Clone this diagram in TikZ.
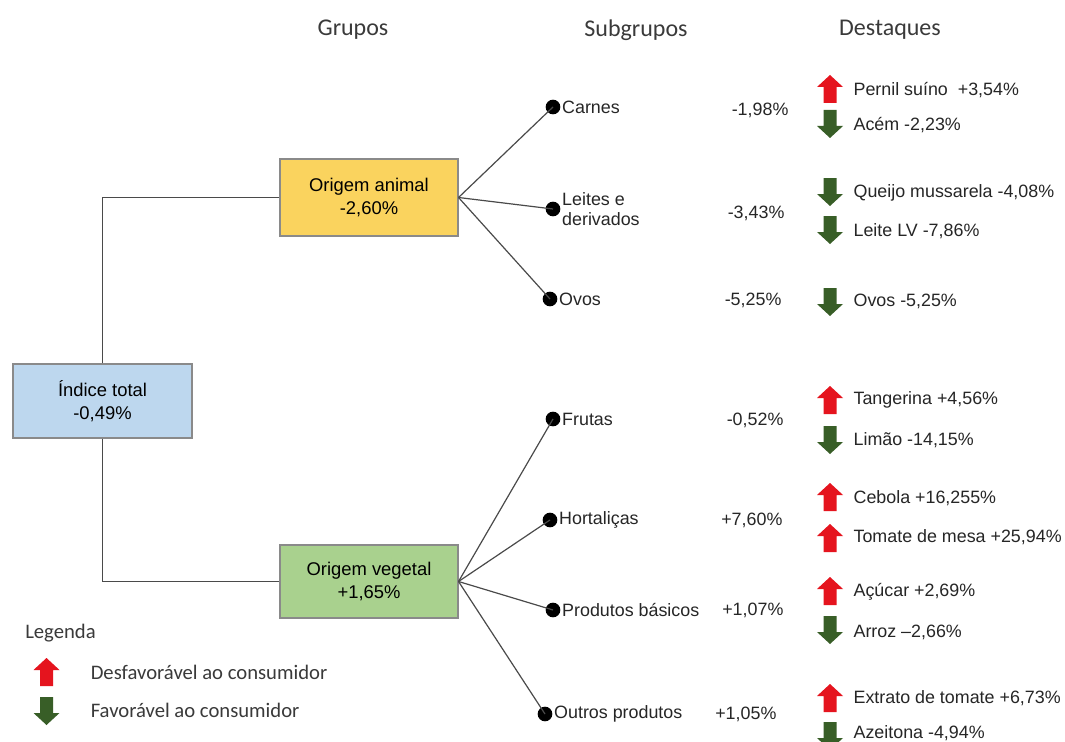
\documentclass[tikz,border=0pt]{standalone}
\usepackage{fontspec}
\setmainfont{Liberation Sans}
\newfontfamily\calib{Carlito}
\definecolor{boxblue}{HTML}{BDD7EE}
\definecolor{boxyellow}{HTML}{FAD35E}
\definecolor{boxgreen}{HTML}{A9D18E}
\definecolor{boxline}{HTML}{8A8A8A}
\definecolor{linec}{HTML}{4A4A4A}
\definecolor{txtc}{HTML}{262626}
\definecolor{hdrc}{HTML}{3A3A3A}
\definecolor{arrred}{HTML}{E5141E}
\definecolor{arrgreen}{HTML}{385E27}
\newcommand\mytxt{\fontsize{13.4}{17}\selectfont}
\newcommand\mybox{\fontsize{13.8}{17}\selectfont}
\newcommand\myhdr{\calib\fontsize{18}{20}\selectfont}
\newcommand\myleg{\calib\fontsize{15.5}{18}\selectfont}
\begin{document}
\begin{tikzpicture}[x=0.75pt,y=-0.75pt,
  box/.style={draw=boxline, line width=0.8pt, align=center, font=\mybox, text=black, inner sep=0pt},
  lbl/.style={font=\mytxt, text=txtc, inner sep=1pt},
  dotn/.style={circle, fill=black, minimum size=11pt, inner sep=0pt},
  conn/.style={draw=linec, line width=0.9pt},
  hdr/.style={font=\myhdr, text=hdrc, inner sep=0pt},
  leg/.style={font=\myleg, text=hdrc, inner sep=0pt, anchor=west},
  uparr/.pic={\fill[arrred] (0,-14) -- (13,-2) -- (6.5,-2) -- (6.5,14) -- (-6.5,14) -- (-6.5,-2) -- (-13,-2) -- cycle;},
  dnarr/.pic={\fill[arrgreen] (0,14) -- (13,2) -- (6.5,2) -- (6.5,-14) -- (-6.5,-14) -- (-6.5,2) -- (-13,2) -- cycle;}
]
\useasboundingbox (0,0) rectangle (1065,742);
\fill[white] (0,0) rectangle (1065,742);

% headers
\node[hdr] (hg) at (353,30) {Grupos};
\node[hdr] (hs) at (636,30) {Subgrupos};
\node[hdr] (hd) at (890,30) {Destaques};

% boxes
\node[box, fill=boxblue, minimum width=134.25pt, minimum height=55.5pt] (tot) at (102.5,401) {Índice total\\-0,49\%};
\node[box, fill=boxyellow, minimum width=133.5pt, minimum height=57.75pt] (anim) at (369,197.5) {Origem animal\\-2,60\%};
\node[box, fill=boxgreen, minimum width=133.5pt, minimum height=54.75pt] (veg) at (369,581.5) {Origem vegetal\\+1,65\%};

\draw[conn] (tot.north) |- (anim.west);
\draw[conn] (tot.south) |- (veg.west);

% dots
\node[dotn] (d1) at (553,107) {};
\node[dotn] (d2) at (553,209) {};
\node[dotn] (d3) at (550,299) {};
\node[dotn] (d4) at (553,419) {};
\node[dotn] (d5) at (550,520) {};
\node[dotn] (d6) at (553,610) {};
\node[dotn] (d7) at (545,714) {};

\foreach \d in {d1,d2,d3} \draw[conn] (anim.east) -- (\d.center);
\foreach \d in {d4,d5,d6,d7} \draw[conn] (veg.east) -- (\d.center);

% subgroup labels
\node[lbl, anchor=west] (s1) at (d1.east) {Carnes};
\node[lbl, anchor=west, align=left, font=\fontsize{13.4}{15}\selectfont] (s2) at (d2.east) {Leites e\\derivados};
\node[lbl, anchor=west] (s3) at (d3.east) {Ovos};
\node[lbl, anchor=west] (s4) at (d4.east) {Frutas};
\node[lbl, anchor=west] (s5) at (d5.east) {Hortaliças};
\node[lbl, anchor=west] (s6) at (d6.east) {Produtos básicos};
\node[lbl, anchor=west] (s7) at (d7.east) {Outros produtos};

% values
\node[lbl, anchor=east] (v1) at (790,110) {-1,98\%};
\node[lbl, anchor=east] (v2) at (786,213) {-3,43\%};
\node[lbl, anchor=east] (v3) at (783,300) {-5,25\%};
\node[lbl, anchor=east] (v4) at (785,420) {-0,52\%};
\node[lbl, anchor=east] (v5) at (784,520) {+7,60\%};
\node[lbl, anchor=east] (v6) at (785,610) {+1,07\%};
\node[lbl, anchor=east] (v7) at (778,714) {+1,05\%};

% highlights
\pic at (830,89) {uparr};
\node[lbl, anchor=west] (h1) at (852,90) {Pernil suíno\ \ +3,54\%};
\pic at (830,124) {dnarr};
\node[lbl, anchor=west] (h2) at (852,125) {Acém -2,23\%};
\pic at (830,192) {dnarr};
\node[lbl, anchor=west] (h3) at (852,193) {Queijo mussarela -4,08\%};
\pic at (830,230) {dnarr};
\node[lbl, anchor=west] (h4) at (852,231) {Leite LV -7,86\%};
\pic at (830,302) {dnarr};
\node[lbl, anchor=west] (h5) at (852,301) {Ovos -5,25\%};
\pic at (830,400) {uparr};
\node[lbl, anchor=west] (h6) at (852,400) {Tangerina +4,56\%};
\pic at (830,440) {dnarr};
\node[lbl, anchor=west] (h7) at (852,440) {Limão -14,15\%};
\pic at (830,497) {uparr};
\node[lbl, anchor=west] (h8) at (852,498) {Cebola +16,255\%};
\pic at (830,538) {uparr};
\node[lbl, anchor=west] (h9) at (852,537) {Tomate de mesa +25,94\%};
\pic at (830,591) {uparr};
\node[lbl, anchor=west] (h10) at (852,592) {Açúcar +2,69\%};
\pic at (830,630) {dnarr};
\node[lbl, anchor=west] (h11) at (852,632) {Arroz –2,66\%};
\pic at (830,698) {uparr};
\node[lbl, anchor=west] (h12) at (852,698) {Extrato de tomate +6,73\%};
\pic at (830,736) {dnarr};
\node[lbl, anchor=west] (h13) at (852,733) {Azeitona -4,94\%};

% legend
\node[leg] (lg) at (25,633) {Legenda};
\pic at (46.5,672) {uparr};
\node[leg] (l1) at (90.5,672) {Desfavorável ao consumidor};
\pic at (46.5,711) {dnarr};
\node[leg] (l2) at (90.5,710) {Favorável ao consumidor};
\end{tikzpicture}
\end{document}
